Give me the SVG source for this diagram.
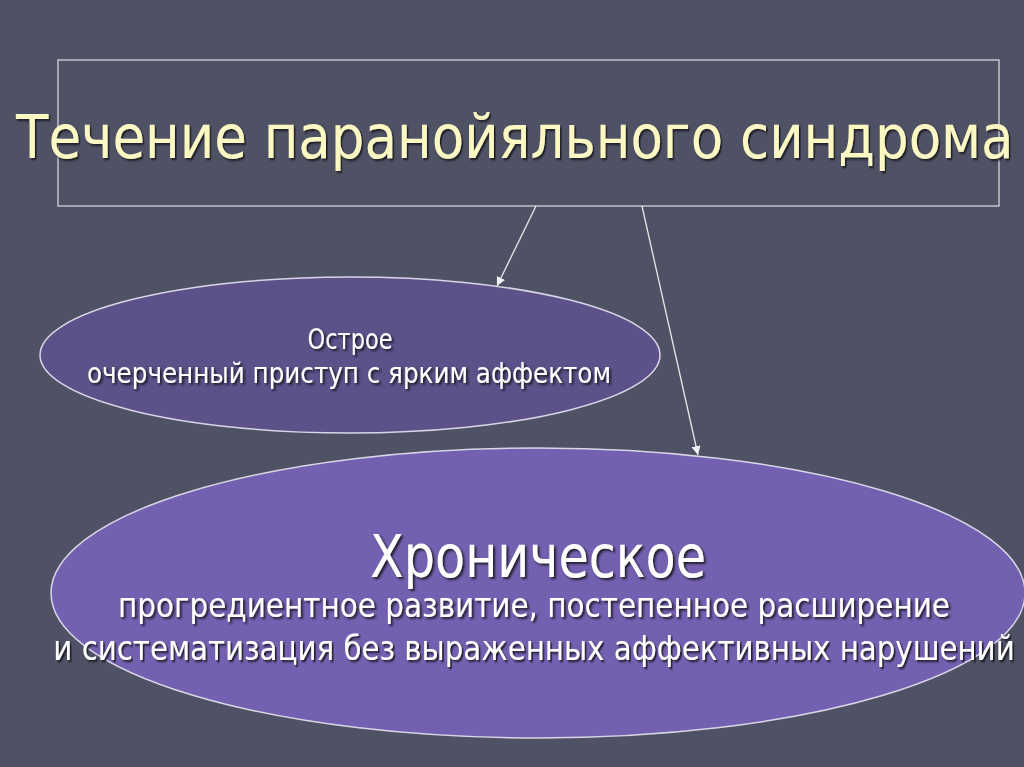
<svg xmlns="http://www.w3.org/2000/svg" width="1024" height="767" viewBox="0 0 1024 767">
<defs>
<style>
.t{font-family:"DejaVu Sans Condensed","DejaVu Sans",sans-serif;fill:#ffffff}
.title{fill:#fbf8c4}
.line{stroke:#e8e8ee;stroke-width:1.3;fill:none}
</style>
<filter id="sh" filterUnits="userSpaceOnUse" x="-2000" y="-2000" width="5000" height="5000">
<feDropShadow dx="2" dy="2" stdDeviation="0.8" flood-color="#14141c" flood-opacity="0.9"/>
</filter>
<marker id="ah" viewBox="0 0 10 10" refX="10" refY="5" markerWidth="9" markerHeight="9" markerUnits="userSpaceOnUse" orient="auto">
<path d="M0,0 L10,5 L0,10 z" fill="#f0f0f4"/>
</marker>
</defs>
<rect width="1024" height="767" fill="#4f5264"/>
<g id="title-node">
<rect x="58" y="60" width="941" height="146" fill="none" stroke="#e0e0e6" stroke-width="1.2"/>
<g transform="translate(16,158) scale(0.8,1)">
<text class="t title" x="0" y="0" font-size="61" textLength="1247" lengthAdjust="spacingAndGlyphs" filter="url(#sh)">Течение паранойяльного синдрома</text>
</g>
</g>
<g id="connectors">
<line class="line" x1="536" y1="206" x2="497" y2="286" marker-end="url(#ah)"/>
<line class="line" x1="642" y1="206" x2="698" y2="455" marker-end="url(#ah)"/>
</g>
<g id="acute-node">
<ellipse cx="350" cy="355" rx="310" ry="78" fill="#5c5189" stroke="#d8d6e6" stroke-width="1.5"/>
<text class="t" x="350" y="349" font-size="29" text-anchor="middle" textLength="85" lengthAdjust="spacingAndGlyphs" filter="url(#sh)">Острое</text>
<text class="t" x="349" y="383" font-size="29" text-anchor="middle" textLength="524" lengthAdjust="spacingAndGlyphs" filter="url(#sh)">очерченный приступ с ярким аффектом</text>
</g>
<g id="chronic-node">
<ellipse cx="538" cy="593" rx="487" ry="145" fill="#7460b0" stroke="#d8d6e6" stroke-width="1.5"/>
<text class="t" x="538" y="577" font-size="58" text-anchor="middle" textLength="336" lengthAdjust="spacingAndGlyphs" filter="url(#sh)">Хроническое</text>
<text class="t" x="534" y="617" font-size="33" text-anchor="middle" textLength="832" lengthAdjust="spacingAndGlyphs" filter="url(#sh)">прогредиентное развитие, постепенное расширение</text>
<g transform="translate(534,660) scale(0.85,1)">
<text class="t" x="0" y="0" font-size="33" text-anchor="middle" textLength="1131" lengthAdjust="spacingAndGlyphs" filter="url(#sh)">и систематизация без выраженных аффективных нарушений</text>
</g>
</g>
</svg>
